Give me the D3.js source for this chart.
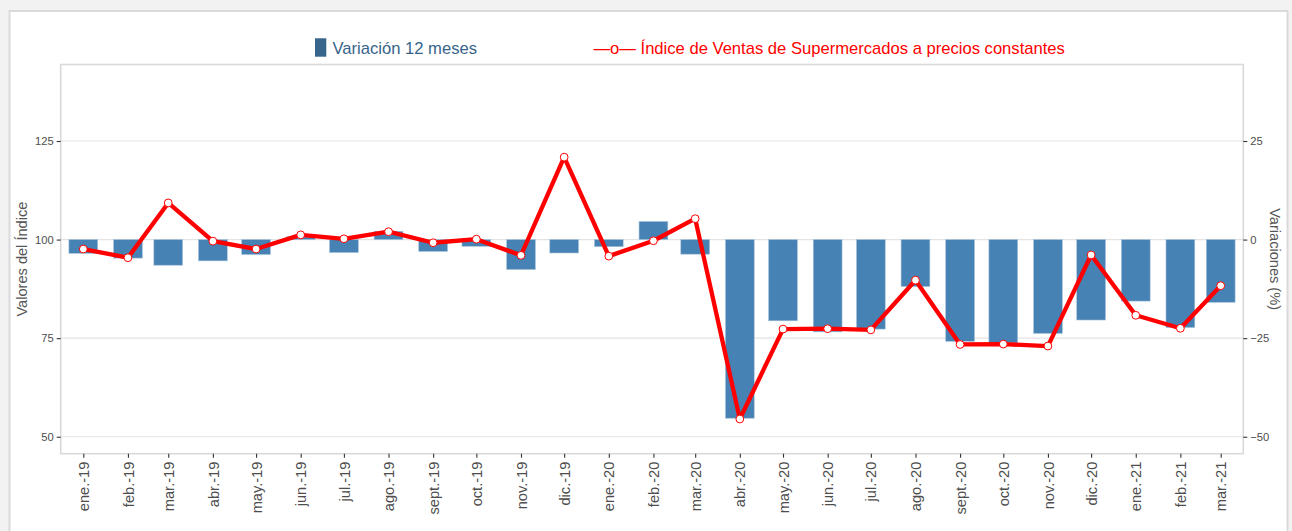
<!DOCTYPE html>
<html>
<head>
<meta charset="utf-8">
<script src="https://cdn.jsdelivr.net/npm/d3@7"></script>
<style>
html,body{margin:0;padding:0;background:#f2f2f2;}
svg{display:block;font-family:"Liberation Sans",Arial,sans-serif;}
</style>
</head>
<body>
<svg id="chart" width="1292" height="531"></svg>
<script>
const etiquetas = ["ene.-19","feb.-19","mar.-19","abr.-19","may.-19","jun.-19","jul.-19","ago.-19","sept.-19","oct.-19","nov.-19","dic.-19",
  "ene.-20","feb.-20","mar.-20","abr.-20","may.-20","jun.-20","jul.-20","ago.-20","sept.-20","oct.-20","nov.-20","dic.-20",
  "ene.-21","feb.-21","mar.-21"];
const fechas = ["2019-01-01","2019-02-01","2019-03-01","2019-04-01","2019-05-01","2019-06-01","2019-07-01","2019-08-01","2019-09-01","2019-10-01","2019-11-01","2019-12-01",
  "2020-01-01","2020-02-01","2020-03-01","2020-04-01","2020-05-01","2020-06-01","2020-07-01","2020-08-01","2020-09-01","2020-10-01","2020-11-01","2020-12-01",
  "2021-01-01","2021-02-01","2021-03-01"];
const indice = [97.6, 95.4, 109.3, 99.6, 97.6, 101.2, 100.2, 102.0, 99.2, 100.1, 96.0, 120.9,
  95.8, 99.7, 105.3, 54.5, 77.3, 77.4, 77.1, 89.7, 73.4, 73.5, 73.0, 96.1,
  80.8, 77.5, 88.3];
const variacion = [-3.5, -4.7, -6.5, -5.4, -3.8, 0.7, -3.3, 2.1, -3.0, -1.7, -7.6, -3.4,
  -1.8, 4.6, -3.7, -45.3, -20.6, -23.4, -22.7, -11.9, -25.8, -26.2, -23.8, -20.4,
  -15.6, -22.3, -15.9];
const ticksIzq = [50, 75, 100, 125];
const ticksDer = [-50, -25, 0, 25];
const leyendaBarra = "Variación 12 meses";
const leyendaLinea = "Índice de Ventas de Supermercados a precios constantes";
const tituloIzq = "Valores del Índice";
const tituloDer = "Variaciones (%)";

const parse = d3.timeParse("%Y-%m-%d");
const data = fechas.map((f, i) => ({fecha: parse(f), etiqueta: etiquetas[i], indice: indice[i], variacion: variacion[i]}));

const svg = d3.select("#chart");
const P = {left: 60.7, right: 1243.3, top: 64.5, bottom: 453.7};
const DAY = 86400000;
const padDays = 15.7;

// card
svg.append("rect").attr("x", 9.5).attr("y", 11).attr("width", 1278).attr("height", 540)
  .attr("fill", "#fff").attr("stroke", "#dadada").attr("stroke-width", 2);

const x = d3.scaleTime()
  .domain([new Date(data[0].fecha.getTime() - padDays * DAY), new Date(data[data.length - 1].fecha.getTime() + padDays * DAY)])
  .range([P.left, P.right]);
const y = d3.scaleLinear().domain([45.7, 144.4]).range([P.bottom, P.top]);
const yR = d3.scaleLinear().domain([45.7 - 100, 144.4 - 100]).range([P.bottom, P.top]);

// panel background
svg.append("rect").attr("x", P.left).attr("y", P.top).attr("width", P.right - P.left).attr("height", P.bottom - P.top)
  .attr("fill", "#fff");

// grid
svg.append("g").selectAll("line").data(ticksIzq).join("line")
  .attr("x1", P.left).attr("x2", P.right)
  .attr("y1", d => y(d)).attr("y2", d => y(d))
  .attr("stroke", "#e3e3e3").attr("stroke-width", 1.2);

// bars
const barDays = 20;
svg.append("g").selectAll("rect").data(data).join("rect")
  .attr("x", d => x(new Date(d.fecha.getTime() - barDays / 2 * DAY)))
  .attr("width", d => x(new Date(d.fecha.getTime() + barDays / 2 * DAY)) - x(new Date(d.fecha.getTime() - barDays / 2 * DAY)))
  .attr("y", d => yR(Math.max(0, d.variacion)))
  .attr("height", d => Math.abs(yR(d.variacion) - yR(0)))
  .attr("fill", "#4682b4").attr("stroke", "#a8c3db").attr("stroke-width", 0.6);

// line
const line = d3.line().x(d => x(d.fecha)).y(d => y(d.indice));
svg.append("path").datum(data).attr("d", line)
  .attr("fill", "none").attr("stroke", "#ff0000").attr("stroke-width", 4.3).attr("stroke-linejoin", "round");
svg.append("g").selectAll("circle").data(data).join("circle")
  .attr("cx", d => x(d.fecha)).attr("cy", d => y(d.indice)).attr("r", 3.9)
  .attr("fill", "#fff").attr("stroke", "#ff0000").attr("stroke-width", 1);

// panel border
svg.append("rect").attr("x", P.left).attr("y", P.top).attr("width", P.right - P.left).attr("height", P.bottom - P.top)
  .attr("fill", "none").attr("stroke", "#d9d9d9").attr("stroke-width", 1.6);

// axes
const axL = svg.append("g").attr("transform", `translate(${P.left},0)`)
  .call(d3.axisLeft(y).tickValues(ticksIzq).tickSize(4).tickPadding(3));
const axR = svg.append("g").attr("transform", `translate(${P.right},0)`)
  .call(d3.axisRight(yR).tickValues(ticksDer).tickSize(4).tickPadding(3));
const axB = svg.append("g").attr("transform", `translate(0,${P.bottom})`)
  .call(d3.axisBottom(x).tickValues(data.map(d => d.fecha)).tickFormat((d, i) => etiquetas[i]).tickSize(4).tickPadding(4));
[axL, axR, axB].forEach(a => {
  a.select(".domain").remove();
  a.selectAll(".tick line").attr("stroke", "#333").attr("stroke-width", 1.1);
  a.selectAll(".tick text").attr("fill", "#4d4d4d").attr("font-size", 11.2)
    .attr("font-family", "'Liberation Sans',Arial,sans-serif");
});
axB.selectAll(".tick text")
  .attr("font-size", 14.6)
  .attr("text-anchor", "end")
  .attr("transform", "rotate(-90)")
  .attr("x", -8).attr("y", 0).attr("dy", "0.35em");

// axis titles
svg.append("text").attr("transform", `translate(27,${(P.top + P.bottom) / 2}) rotate(-90)`)
  .attr("text-anchor", "middle").attr("font-size", 14.6).attr("fill", "#555").text(tituloIzq);
svg.append("text").attr("transform", `translate(1270,${(P.top + P.bottom) / 2}) rotate(90)`)
  .attr("text-anchor", "middle").attr("font-size", 14.6).attr("fill", "#555").text(tituloDer);

// legend
svg.append("rect").attr("x", 315).attr("y", 38.3).attr("width", 11.3).attr("height", 18.4).attr("fill", "#36648b");
svg.append("text").attr("x", 332.5).attr("y", 54).attr("font-size", 16.6).attr("fill", "#36648b").text(leyendaBarra);
svg.append("text").attr("x", 593.5).attr("y", 54).attr("font-size", 16.6).attr("fill", "#ff0000")
  .text("—o— " + leyendaLinea);
</script>
</body>
</html>
